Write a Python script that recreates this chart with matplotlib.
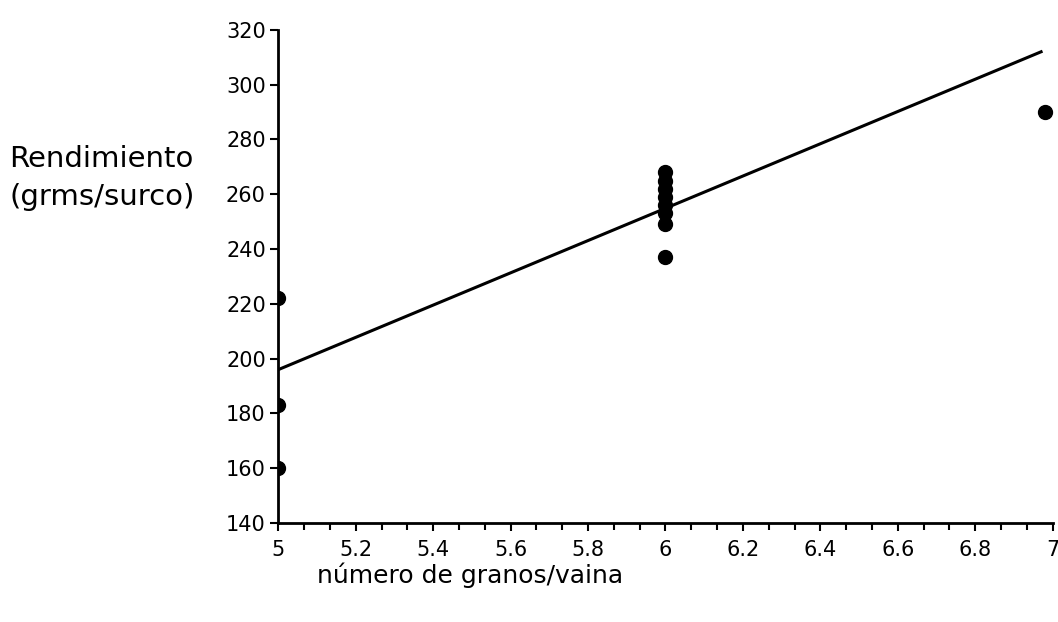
import numpy as np
import matplotlib.pyplot as plt
from matplotlib.ticker import MultipleLocator

# datos
granos = [5, 5, 5, 6, 6, 6, 6, 6, 6, 6, 6, 6.98]
rendimiento = [222, 183, 160, 268, 265, 262, 259, 256, 253, 249, 237, 290]

# recta de regresion (extremos)
recta_x = [5, 6.97]
recta_y = [196, 312]

y_ticks = [140, 160, 180, 200, 220, 240, 260, 280, 300, 320]
x_ticks = [5, 5.2, 5.4, 5.6, 5.8, 6, 6.2, 6.4, 6.6, 6.8, 7]
x_labels = ['5', '5.2', '5.4', '5.6', '5.8', '6', '6.2', '6.4', '6.6', '6.8', '7']

plt.rcParams['font.family'] = ['DejaVu Sans']
fig = plt.figure(figsize=(10.58, 6.22), dpi=100)
ax = fig.add_axes([0.263, 0.159, 0.732, 0.793])

ax.plot(recta_x, recta_y, color='black', lw=2.2)
ax.plot(granos, rendimiento, 'o', color='black', markersize=10)

ax.set_xlim(5, 7)
ax.set_ylim(140, 320)
ax.set_yticks(y_ticks)
ax.set_xticks(x_ticks)
ax.set_xticklabels(x_labels)
ax.xaxis.set_minor_locator(MultipleLocator(0.2 / 3))

for s in ['top', 'right']:
    ax.spines[s].set_visible(False)
for s in ['left', 'bottom']:
    ax.spines[s].set_linewidth(2)
ax.tick_params(axis='both', which='major', direction='out', length=6, width=1.5,
               labelsize=15, pad=3)
ax.tick_params(axis='x', which='minor', direction='out', length=5, width=1.5)
ax.tick_params(axis='x', pad=6)

fig.text(0.009, 0.745, 'Rendimiento', fontsize=21, ha='left', va='center')
fig.text(0.009, 0.683, '(grms/surco)', fontsize=21, ha='left', va='center')
fig.text(0.3, 0.075, 'número de granos/vaina', fontsize=18, ha='left', va='center')

fig.savefig('out.png', dpi=100)
